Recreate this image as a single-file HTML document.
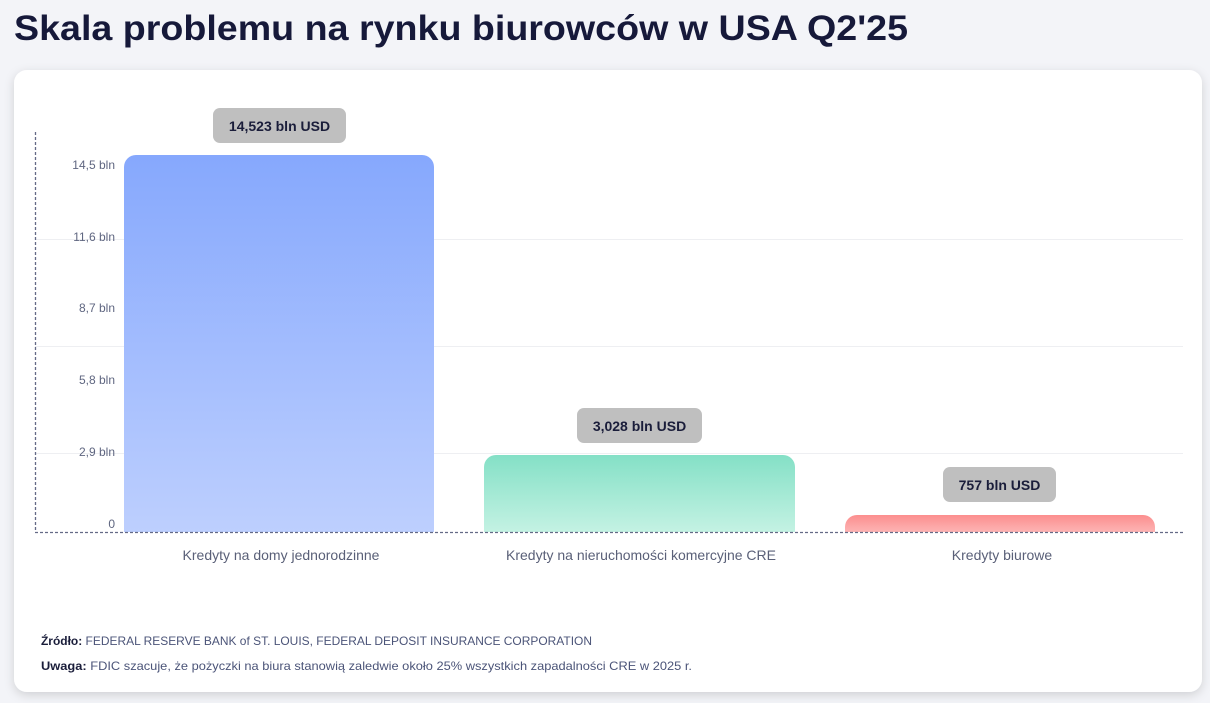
<!DOCTYPE html>
<html><head><meta charset="utf-8"><style>
html,body{margin:0;padding:0;width:1210px;height:703px;overflow:hidden;background:#f3f4f8;}
svg{display:block;font-family:"Liberation Sans",sans-serif;}
</style></head><body>
<svg width="1210" height="703" viewBox="0 0 1210 703" xmlns="http://www.w3.org/2000/svg">
<defs>
<linearGradient id="gb" x1="0" y1="0" x2="0" y2="1"><stop offset="0" stop-color="#86a8fd"/><stop offset="1" stop-color="#bdcffe"/></linearGradient>
<linearGradient id="gg" x1="0" y1="0" x2="0" y2="1"><stop offset="0" stop-color="#84e0c6"/><stop offset="1" stop-color="#c4f2e3"/></linearGradient>
<linearGradient id="gr" x1="0" y1="0" x2="0" y2="1"><stop offset="0" stop-color="#fc8e8e"/><stop offset="1" stop-color="#fdb4b4"/></linearGradient>
<filter id="sh" x="-5%" y="-5%" width="110%" height="115%"><feDropShadow dx="0" dy="3" stdDeviation="5" flood-color="#000" flood-opacity="0.15"/></filter>
</defs>
<text x="14" y="40" font-size="35" font-weight="bold" fill="#16193a" textLength="894" lengthAdjust="spacingAndGlyphs">Skala problemu na rynku biurowców w USA Q2'25</text>
<rect x="14" y="70" width="1188" height="622" rx="13" fill="#fff" filter="url(#sh)"/>
<g stroke="#eeeff2" stroke-width="1">
<line x1="35" y1="239.5" x2="1183" y2="239.5"/>
<line x1="35" y1="346.5" x2="1183" y2="346.5"/>
<line x1="35" y1="453.5" x2="1183" y2="453.5"/>
</g>
<g font-size="12" fill="#5f6680" text-anchor="end">
<text x="115" y="169">14,5 bln</text>
<text x="115" y="241">11,6 bln</text>
<text x="115" y="312">8,7 bln</text>
<text x="115" y="384">5,8 bln</text>
<text x="115" y="456">2,9 bln</text>
<text x="115" y="528">0</text>
</g>
<path d="M124 532V167a12 12 0 0 1 12-12H422a12 12 0 0 1 12 12V532Z" fill="url(#gb)"/>
<path d="M484 532V467a12 12 0 0 1 12-12H783a12 12 0 0 1 12 12V532Z" fill="url(#gg)"/>
<path d="M845 532V527a12 12 0 0 1 12-12H1143a12 12 0 0 1 12 12V532Z" fill="url(#gr)"/>
<line x1="35.5" y1="132" x2="35.5" y2="532" stroke="#646a86" stroke-width="1.3" stroke-dasharray="3,2"/>
<line x1="35" y1="532.5" x2="1183" y2="532.5" stroke="#646a86" stroke-width="1.3" stroke-dasharray="3,2"/>
<rect x="213" y="108" width="133" height="35" rx="7" fill="#bfbfbf"/>
<text x="279.5" y="131" font-size="14" font-weight="bold" fill="#1a1d3a" text-anchor="middle">14,523 bln USD</text>
<rect x="577" y="408" width="125" height="35" rx="7" fill="#bfbfbf"/>
<text x="639.5" y="431" font-size="14" font-weight="bold" fill="#1a1d3a" text-anchor="middle">3,028 bln USD</text>
<rect x="943" y="467" width="113" height="35" rx="7" fill="#bfbfbf"/>
<text x="999.5" y="490" font-size="14" font-weight="bold" fill="#1a1d3a" text-anchor="middle">757 bln USD</text>
<g font-size="14" fill="#5a6078" text-anchor="middle">
<text x="281" y="560">Kredyty na domy jednorodzinne</text>
<text x="641" y="560">Kredyty na nieruchomości komercyjne CRE</text>
<text x="1002" y="560">Kredyty biurowe</text>
</g>
<g font-size="12" fill="#4b5478">
<text x="41" y="645" textLength="551" lengthAdjust="spacingAndGlyphs"><tspan font-weight="bold" fill="#1a1d3a">Źródło:</tspan> FEDERAL RESERVE BANK of ST. LOUIS, FEDERAL DEPOSIT INSURANCE CORPORATION</text>
<text x="41" y="670" textLength="651" lengthAdjust="spacingAndGlyphs"><tspan font-weight="bold" fill="#1a1d3a">Uwaga:</tspan> FDIC szacuje, że pożyczki na biura stanowią zaledwie około 25% wszystkich zapadalności CRE w 2025 r.</text>
</g>
</svg>
</body></html>
